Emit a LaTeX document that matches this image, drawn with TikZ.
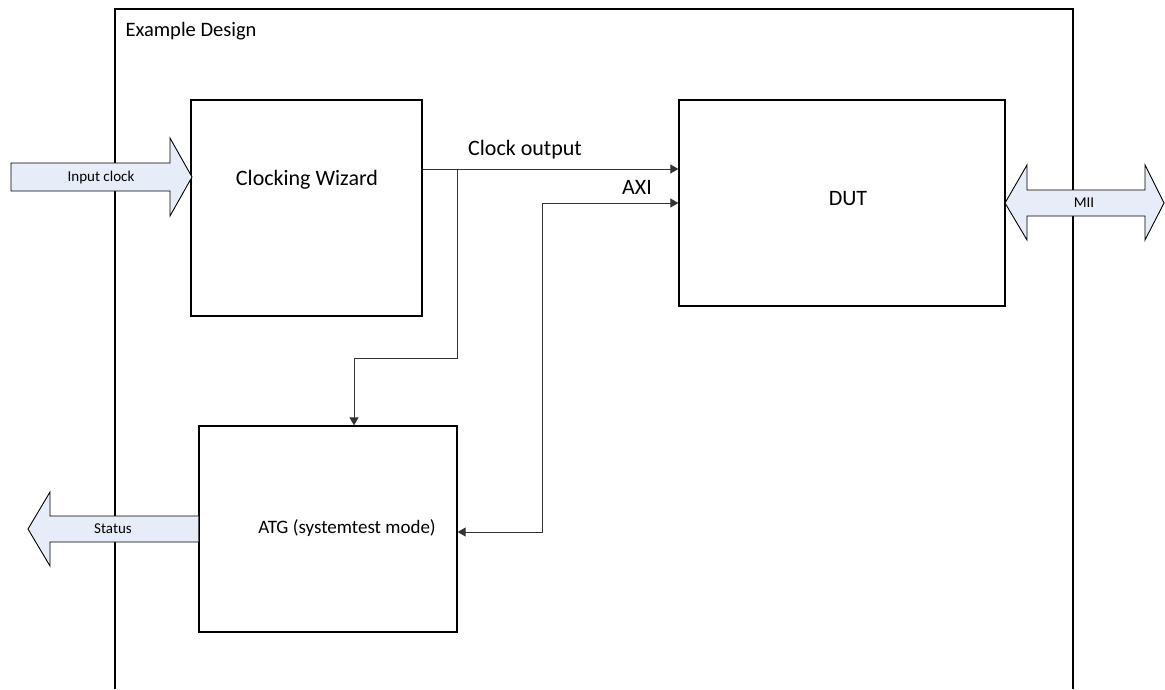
\documentclass[tikz,border=0pt]{standalone}
\usepackage{fontspec}
\setmainfont{Carlito}
\usetikzlibrary{arrows.meta}
\definecolor{portfill}{HTML}{E7EDF8}
\begin{document}
\begin{tikzpicture}[x=1pt,y=-1pt,
  blk/.style={draw,line width=1.3pt,inner sep=0pt},
  port/.style={draw,line width=0.9pt,fill=portfill,line join=miter},
  sig/.style={draw=black!80,line width=1pt,-{Triangle[length=8pt,width=9pt]}},
  big/.style={font=\fontsize{22}{26}\selectfont},
  small/.style={font=\fontsize{15}{18}\selectfont}]
 \useasboundingbox (0,0) rectangle (1165,689);
 \draw[line width=1.3pt](115,689)--(115,9)--(1073,9)--(1073,689);
 \node[anchor=west,font=\fontsize{20.5}{24}\selectfont](title) at (122,31){Example Design};
 \node[blk,minimum width=231pt,minimum height=216pt](cw) at (306.5,208){};
 \node[blk,minimum width=326pt,minimum height=206pt](dut) at (842,203){};
 \node[blk,minimum width=258pt,minimum height=206pt](atg) at (328,529){};
 \node[big](cwtext) at (307,180){Clocking Wizard};
 \node[big](duttext) at (848,199){DUT};
 \node[font=\fontsize{19}{23}\selectfont](atgtext) at (347,528){ATG (systemtest mode)};
 % ports
 \draw[port](11,163)--(170,163)--(170,138)--(192,177)--(170,216)--(170,191)--(11,191)--cycle;
 \draw[port](atg.west |- 0,516)--(50,516)--(50,492)--(28,529)--(50,566)--(50,542)--(atg.west |- 0,542);
 \draw[port](1005,203)--(1027,165)--(1027,190)--(1145,190)--(1145,165)--(1164,203)--(1145,240)--(1145,216)--(1027,216)--(1027,240)--cycle;
 \node[small](inclk) at (101,177){Input clock};
 \node[small](status) at (113,529){Status};
 \node[small](mii) at (1084,203){MII};
 % signals
 \coordinate(split) at (457,169);
 \draw[sig](cw.east |- split)--(dut.west |- split);
 \node[big](clklab) at (525,150){Clock output};
 \draw[sig](split)--(457,358)--(354,358)--(354,0 |- atg.north);
 \draw[sig,{Triangle[length=8pt,width=9pt]}-{Triangle[length=8pt,width=9pt]}](atg.east |- 0,532)--(542,532)--(542,203)--(dut.west);
 \node[big](axilab) at (637,187){AXI};
\end{tikzpicture}
\end{document}
